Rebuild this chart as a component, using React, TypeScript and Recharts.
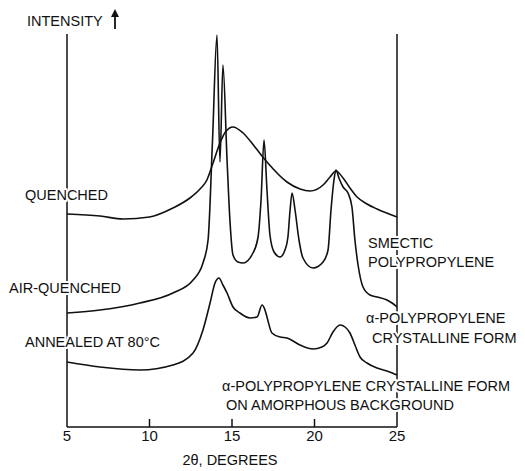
import { LineChart, Line, XAxis, YAxis, ReferenceLine } from 'recharts';

// 2θ positions (degrees) and relative intensity (arbitrary units, curves stacked with offsets)
const quenchedDeg = [5, 7, 8.4, 10, 11.42, 12.45, 13.06, 13.48, 13.85, 14.27, 14.6, 15.06, 15.67, 16.39, 17.12, 18.33, 19.12, 19.73, 20.52, 20.94, 21.3, 21.73, 22.15, 22.58, 23.18, 23.79, 25];
const quenchedVal = [213, 211, 208, 210, 219, 229, 238, 247, 264, 284, 295, 300, 294, 280, 265, 245, 238, 236, 242, 250, 256, 249, 239, 230, 223, 218, 210];

const airDeg = [5, 7, 9.42, 11.42, 12.64, 13.24, 13.55, 13.82, 14.09, 14.27, 14.45, 14.7, 14.88, 15.06, 15.36, 15.67, 16.27, 16.58, 16.76, 16.94, 17.12, 17.3, 17.55, 17.91, 18.21, 18.39, 18.52, 18.64, 18.82, 19.06, 19.3, 19.91, 20.52, 20.82, 21.0, 21.18, 21.3, 21.48, 21.73, 22.03, 22.27, 22.45, 22.64, 22.94, 23.36, 23.79, 24.39, 24.7, 25];
const airVal = [114, 117, 124, 134, 147, 164, 187, 287, 392, 265, 362, 267, 205, 172, 165, 164, 174, 190, 227, 287, 237, 192, 175, 170, 177, 190, 217, 234, 217, 187, 169, 159, 165, 177, 217, 247, 257, 249, 240, 234, 220, 187, 162, 140, 132, 130, 127, 124, 120];

const annealedDeg = [5, 7, 9.42, 11.42, 12.64, 13.24, 13.67, 13.97, 14.21, 14.45, 14.7, 15.06, 15.48, 16.09, 16.52, 16.82, 17.0, 17.12, 17.42, 17.91, 18.33, 19.12, 19.91, 20.45, 20.76, 21.12, 21.55, 21.85, 22.15, 22.45, 22.76, 23.18, 23.79, 24.39, 25];
const annealedVal = [65, 60, 57, 62, 74, 97, 124, 144, 149, 142, 134, 120, 114, 109, 110, 122, 117, 110, 94, 90, 89, 82, 78, 80, 84, 95, 102, 100, 94, 82, 70, 64, 59, 56, 52];

const xTicks = [5, 10, 15, 20, 25];

const toRows = (xs: number[], ys: number[]) => xs.map((x, i) => ({ deg: x, v: ys[i] }));

const FONT = '"Liberation Sans", Arial, sans-serif';
const INK = '#111';

const halo = { stroke: '#fff', strokeWidth: 4, paintOrder: 'stroke' as const, strokeLinejoin: 'round' as const };

function BottomTick(props: any) {
  const { x, y, payload } = props;
  const inner = payload.value !== 5 && payload.value !== 25;
  return (
    <g>
      {inner && <line x1={x} x2={x} y1={y} y2={y - 8} stroke={INK} strokeWidth={1.5} />}
      <text x={x} y={y + 14} textAnchor="middle" fontSize={15} fontFamily={FONT} fill={INK}>
        {payload.value}
      </text>
    </g>
  );
}

export default function App() {
  const quenched = toRows(quenchedDeg, quenchedVal);
  const air = toRows(airDeg, airVal);
  const annealed = toRows(annealedDeg, annealedVal);

  return (
    <div style={{ position: 'absolute', left: 0, top: 0, width: 525, height: 471, background: '#fff' }}>
      <LineChart width={525} height={471} margin={{ top: 34, right: 128, bottom: 14, left: 67 }}>
        <XAxis
          dataKey="deg"
          type="number"
          domain={[5, 25]}
          ticks={xTicks}
          allowDuplicatedCategory={false}
          tickLine={false}
          tickSize={0}
          tickMargin={0}
          height={30}
          axisLine={{ stroke: INK, strokeWidth: 1.5 }}
          tick={<BottomTick />}
        />
        <YAxis type="number" domain={[0, 393]} hide />
        <ReferenceLine x={5} stroke={INK} strokeWidth={1.5} />
        <ReferenceLine x={25} stroke={INK} strokeWidth={1.5} />
        <Line data={quenched} dataKey="v" type="monotone" stroke={INK} strokeWidth={1.6} dot={false} isAnimationActive={false} />
        <Line data={air} dataKey="v" type="monotone" stroke={INK} strokeWidth={1.6} dot={false} isAnimationActive={false} />
        <Line data={annealed} dataKey="v" type="monotone" stroke={INK} strokeWidth={1.6} dot={false} isAnimationActive={false} />
      </LineChart>
      <svg width={525} height={471} style={{ position: 'absolute', left: 0, top: 0, pointerEvents: 'none' }}>
        <g fontFamily={FONT} fontSize={14.5} fill={INK} dominantBaseline="central">
          <text x={27} y={21}>INTENSITY</text>
          <text x={25} y={195} {...halo}>QUENCHED</text>
          <text x={9} y={288} {...halo}>AIR-QUENCHED</text>
          <text x={25} y={342} {...halo}>ANNEALED AT 80°C</text>
          <text x={368} y={243} {...halo}>SMECTIC</text>
          <text x={368} y={262} {...halo}>POLYPROPYLENE</text>
          <text x={366} y={318} {...halo}>α-POLYPROPYLENE</text>
          <text x={372} y={338} {...halo}>CRYSTALLINE FORM</text>
          <text x={222} y={386} {...halo}>α-POLYPROPYLENE CRYSTALLINE FORM</text>
          <text x={226} y={405} {...halo}>ON AMORPHOUS BACKGROUND</text>
          <text x={230} y={460} textAnchor="middle">2θ, DEGREES</text>
        </g>
        <line x1={115} x2={115} y1={29} y2={15} stroke={INK} strokeWidth={1.8} />
        <polygon points="111,17 115,9 119,17" fill={INK} />
      </svg>
    </div>
  );
}
